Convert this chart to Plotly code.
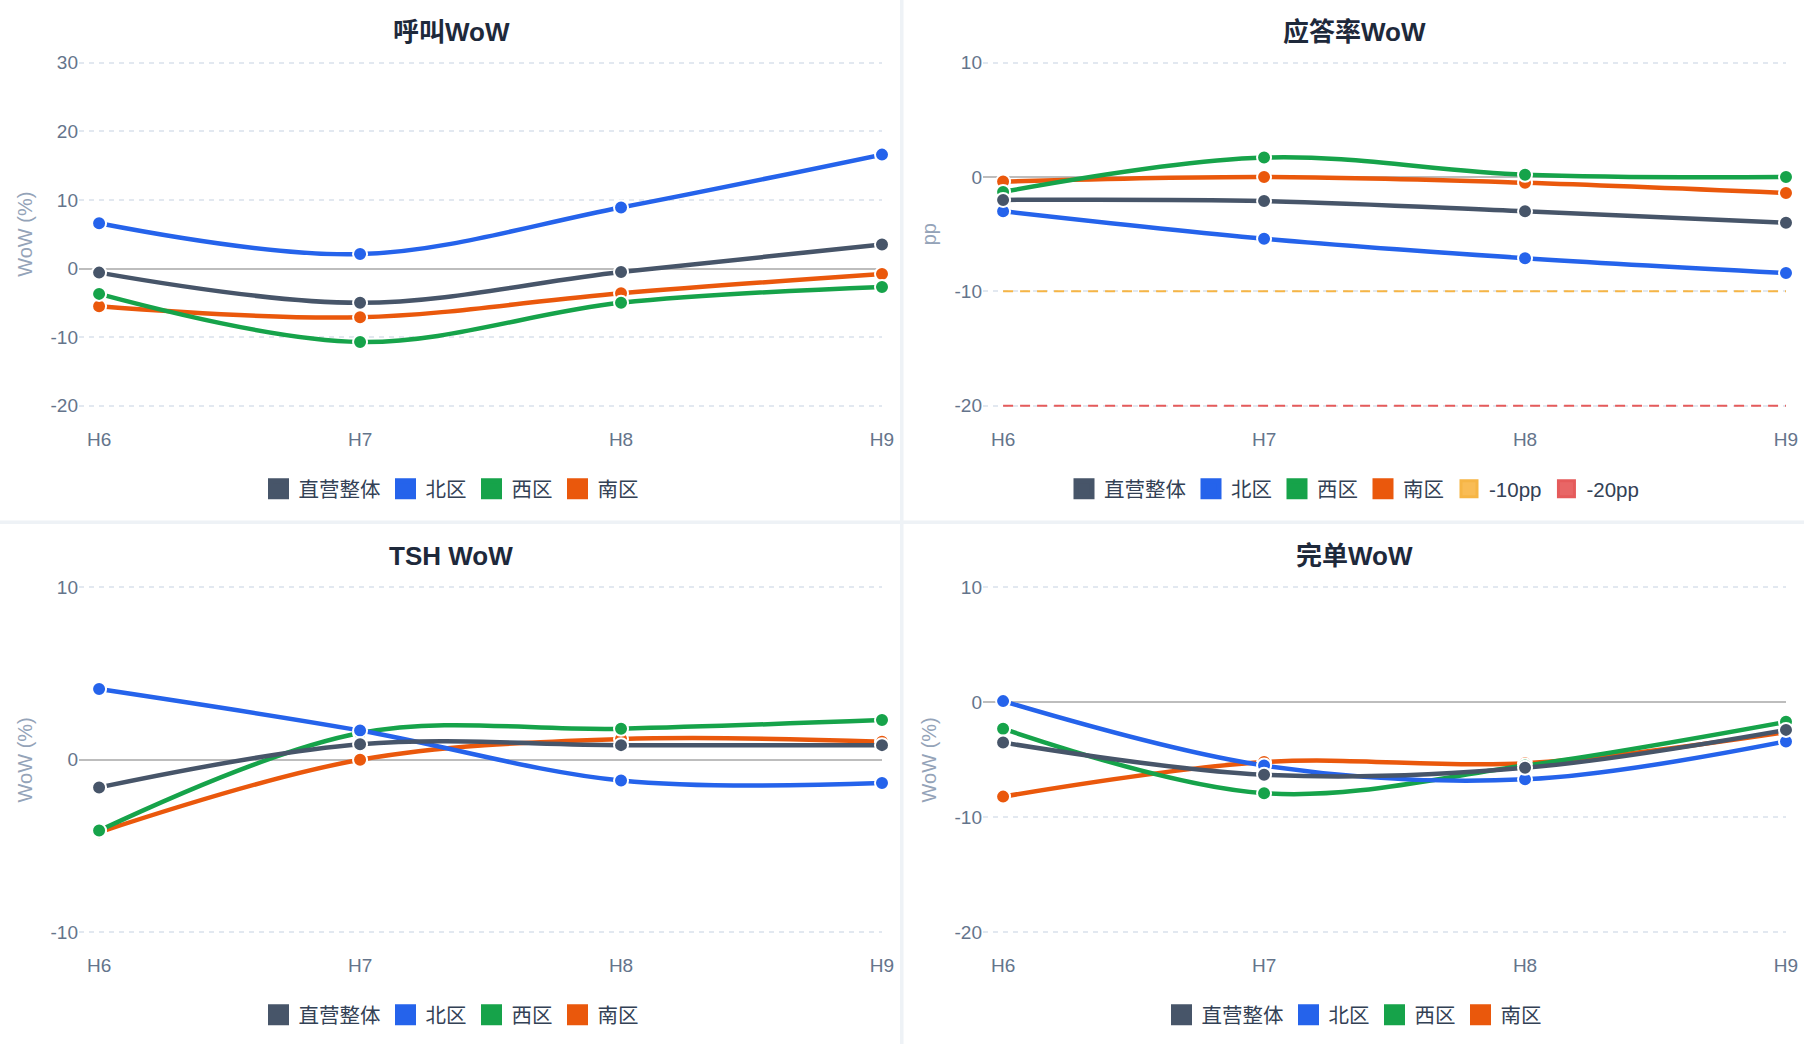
import plotly.graph_objects as go

W, H = 1804, 1044

hours = ['H6', 'H7', 'H8', 'H9']
series_names = ['直营整体', '北区', '西区', '南区']
series_colors = ['#475569', '#2563eb', '#16a34a', '#ea580c']

# 呼叫WoW (%)
call_total = [-0.6, -5.0, -0.5, 3.5]
call_north = [6.6, 2.1, 8.9, 16.6]
call_west = [-3.7, -10.7, -5.0, -2.7]
call_south = [-5.5, -7.1, -3.6, -0.8]
call_ticks = [-20, -10, 0, 10, 20, 30]

# 应答率WoW (pp)
ans_total = [-2.0, -2.1, -3.0, -4.0]
ans_north = [-3.0, -5.4, -7.1, -8.4]
ans_west = [-1.3, 1.7, 0.2, 0.0]
ans_south = [-0.4, 0.0, -0.5, -1.4]
ans_ticks = [-20, -10, 0, 10]
ans_limits = [-10, -20]
ans_limit_names = ['-10pp', '-20pp']
ans_limit_colors = ['#f6b545', '#e55b5b']
ans_limit_fill = ['#f9bc55', '#e86666']

# TSH WoW (%)
tsh_total = [-1.6, 0.9, 0.85, 0.85]
tsh_north = [4.1, 1.7, -1.2, -1.35]
tsh_west = [-4.1, 1.55, 1.8, 2.3]
tsh_south = [-4.2, 0.0, 1.2, 1.05]
tsh_ticks = [-10, 0, 10]

# 完单WoW (%)
done_total = [-3.5, -6.3, -5.7, -2.4]
done_north = [0.1, -5.5, -6.7, -3.4]
done_west = [-2.3, -7.9, -5.5, -1.7]
done_south = [-8.2, -5.2, -5.3, -2.6]
done_ticks = [-20, -10, 0, 10]

FONT = 'Liberation Sans, Noto Sans CJK SC, sans-serif'


def px(x):
    return x / W


def py(y):
    return 1 - y / H


panels = [
    dict(title='呼叫WoW', ytitle='WoW (%)', data=[call_total, call_north, call_west, call_south],
         ticks=call_ticks, xd=[79, 882], yd=[62.7, 405.7], cx=451, ty=32, ly=489, limits=False),
    dict(title='应答率WoW', ytitle='pp', data=[ans_total, ans_north, ans_west, ans_south],
         ticks=ans_ticks, xd=[983, 1786], yd=[62.7, 405.7], cx=1354, ty=32, ly=489, limits=True),
    dict(title='TSH WoW', ytitle='WoW (%)', data=[tsh_total, tsh_north, tsh_west, tsh_south],
         ticks=tsh_ticks, xd=[79, 882], yd=[587.2, 932.4], cx=451, ty=556, ly=1015, limits=False),
    dict(title='完单WoW', ytitle='WoW (%)', data=[done_total, done_north, done_west, done_south],
         ticks=done_ticks, xd=[983, 1786], yd=[587.2, 932.4], cx=1354, ty=556, ly=1015, limits=False),
]

fig = go.Figure()
annotations = []
PAD = 2  # px kept around the outer grid lines so plotly does not drop them

for i, p in enumerate(panels):
    n = '' if i == 0 else str(i + 1)
    xa, ya = 'x' + n, 'y' + n
    lg = 'legend' + n

    if p['limits']:
        for v, nm, c in zip(ans_limits, ans_limit_names, ans_limit_colors):
            fig.add_trace(go.Scatter(x=hours, y=[v] * len(hours), mode='lines',
                                     line=dict(color=c, width=2, dash='10px,7px'),
                                     showlegend=False, xaxis=xa, yaxis=ya, hoverinfo='skip'))

    # draw in reverse so 直营整体 ends on top
    for vals, c in reversed(list(zip(p['data'], series_colors))):
        fig.add_trace(go.Scatter(x=hours, y=vals, mode='lines+markers',
                                 line=dict(color=c, width=4.5, shape='spline', smoothing=1),
                                 marker=dict(size=14, color=c, line=dict(color='white', width=2)),
                                 cliponaxis=False, showlegend=False, xaxis=xa, yaxis=ya))

    # legend swatches
    for nm, c in zip(series_names, series_colors):
        fig.add_trace(go.Scatter(x=[None], y=[None], mode='markers', name=nm,
                                 marker=dict(symbol='square', size=16, color=c, line=dict(color=c, width=5)),
                                 legend=lg, xaxis=xa, yaxis=ya))
    if p['limits']:
        for nm, c, f in zip(ans_limit_names, ans_limit_colors, ans_limit_fill):
            fig.add_trace(go.Scatter(x=[None], y=[None], mode='markers', name=nm,
                                     marker=dict(symbol='square', size=16, color=f, line=dict(color=c, width=3)),
                                     legend=lg, xaxis=xa, yaxis=ya))

    tk = p['ticks']
    lo, hi = min(tk), max(tk)
    top, bot = p['yd']
    u = PAD * (hi - lo) / (bot - top)
    fig.layout['xaxis' + n] = dict(
        domain=[px(p['xd'][0]), px(p['xd'][1])], anchor=ya, type='category',
        range=[-0.077, 3], showgrid=False, zeroline=False, showline=False,
        ticks='', ticklabelstandoff=18,
        tickfont=dict(size=19, color='#64748b', family=FONT))
    fig.layout['yaxis' + n] = dict(
        domain=[py(bot + PAD), py(top - PAD)], anchor=xa,
        range=[lo - u, hi + u], tickmode='array', tickvals=tk, ticktext=[str(t) for t in tk],
        showgrid=True, gridcolor='#e2e8f0', griddash='5px,5px', gridwidth=1.5,
        zeroline=True, zerolinecolor='#bdbdbd', zerolinewidth=1.5, showline=False, ticks='',
        tickfont=dict(size=19, color='#64748b', family=FONT),
        title=dict(text=p['ytitle'], standoff=12, font=dict(size=20, color='#94a3b8', family=FONT)))
    fig.layout[lg] = dict(
        orientation='h', x=px(p['cx']), y=py(p['ly']), xanchor='center', yanchor='middle',
        font=dict(size=20.5, color='#334155', family=FONT), bgcolor='rgba(0,0,0,0)', itemclick=False)

    annotations.append(dict(text='<b>' + p['title'] + '</b>', x=px(p['cx']), y=py(p['ty']),
                            xref='paper', yref='paper', showarrow=False, xanchor='center', yanchor='middle',
                            font=dict(size=26, color='#1e293b', family=FONT)))

fig.update_layout(
    width=W, height=H, margin=dict(l=0, r=0, t=0, b=0, autoexpand=False),
    paper_bgcolor='white', plot_bgcolor='white',
    font=dict(family=FONT), annotations=annotations,
    shapes=[
        dict(type='rect', xref='paper', yref='paper', x0=px(900), x1=px(903.5), y0=0, y1=1,
             fillcolor='#eef2f6', line=dict(width=0), layer='below'),
        dict(type='rect', xref='paper', yref='paper', x0=0, x1=1, y0=py(524), y1=py(520.5),
             fillcolor='#eef2f6', line=dict(width=0), layer='below'),
    ],
)

fig.write_html('out.html', config={'displayModeBar': False},
               post_script="document.body.style.margin='0';")
